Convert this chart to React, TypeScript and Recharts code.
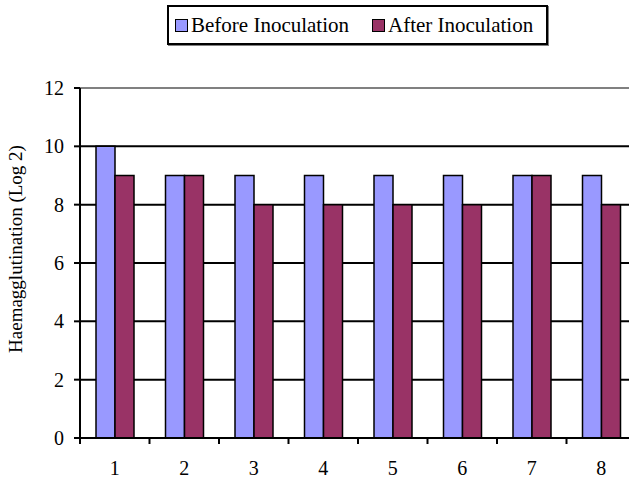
import React from 'react';
import { BarChart, Bar, XAxis, YAxis, CartesianGrid, ReferenceLine } from 'recharts';

const animals = ['1', '2', '3', '4', '5', '6', '7', '8'];
const beforeInoculation = [10, 9, 9, 9, 9, 9, 9, 9];
const afterInoculation = [9, 9, 8, 8, 8, 8, 9, 8];
const yTicks = [0, 2, 4, 6, 8, 10, 12];

const data = animals.map((a, i) => ({
  animal: a,
  before: beforeInoculation[i],
  after: afterInoculation[i],
}));

const CHART_W = 660;
const CHART_H = 481;
const PLOT_LEFT = 80;
const PLOT_RIGHT = 636;
const PLOT_TOP = 88;
const PLOT_BOTTOM = 438;
const BAND = (PLOT_RIGHT - PLOT_LEFT) / animals.length;

const FONT = '"Liberation Serif", "Times New Roman", serif';

// Excel-style category axis: tick marks sit between categories, labels at the centre
const CategoryTick = ({ x, payload }: any) => {
  const edge = x - BAND / 2;
  return (
    <g>
      <line x1={edge} y1={PLOT_BOTTOM} x2={edge} y2={PLOT_BOTTOM + 6} stroke="#000" strokeWidth={2} />
      <text x={x} y={PLOT_BOTTOM + 37} textAnchor="middle" fontFamily={FONT} fontSize={20} fill="#000">
        {payload.value}
      </text>
    </g>
  );
};

const AxisTitle = () => (
  <text
    x={0}
    y={0}
    transform="translate(22, 249) rotate(-90)"
    textAnchor="middle"
    fontFamily={FONT}
    fontSize={19}
    fill="#000"
  >
    Haemagglutination (Log 2)
  </text>
);

const swatch = (color: string, left: number) => (
  <span
    style={{
      position: 'absolute',
      left,
      top: 12,
      width: 11,
      height: 11,
      background: color,
      border: '1.5px solid #000',
    }}
  />
);

const LegendBox = () => (
  <div
    style={{
      position: 'absolute',
      left: 167,
      top: 5,
      width: 377,
      height: 36,
      border: '2px solid #000',
      boxShadow: '1px 1px 0 #808080',
      fontFamily: FONT,
      fontSize: 21,
      lineHeight: '36px',
      color: '#000',
      background: '#fff',
    }}
  >
    {swatch('#9999FF', 6)}
    <span style={{ position: 'absolute', left: 22, top: 0, whiteSpace: 'nowrap' }}>Before Inoculation</span>
    {swatch('#993366', 203)}
    <span style={{ position: 'absolute', left: 219, top: 0, whiteSpace: 'nowrap' }}>After Inoculation</span>
  </div>
);

export default function App() {
  return (
    <div style={{ position: 'fixed', left: 0, top: 0, width: 629, height: 481, overflow: 'hidden', background: '#fff' }}>
      <BarChart
        width={CHART_W}
        height={CHART_H}
        data={data}
        margin={{ top: PLOT_TOP, right: CHART_W - PLOT_RIGHT, left: 0, bottom: 0 }}
        barGap={0}
        barSize={19}
      >
        <CartesianGrid vertical={false} horizontalValues={[2, 4, 6, 8, 10]} stroke="#000" strokeWidth={2} />
        <ReferenceLine y={12} stroke="#808080" strokeWidth={2} />
        <XAxis
          dataKey="animal"
          height={CHART_H - PLOT_BOTTOM}
          axisLine={{ stroke: '#000', strokeWidth: 2 }}
          tickLine={false}
          tick={<CategoryTick />}
          interval={0}
        />
        <YAxis
          width={PLOT_LEFT}
          domain={[0, 12]}
          ticks={yTicks}
          interval={0}
          axisLine={{ stroke: '#000', strokeWidth: 2 }}
          tickLine={{ stroke: '#000', strokeWidth: 2 }}
          tickSize={6}
          tickMargin={10}
          tick={{ fill: '#000', fontFamily: FONT, fontSize: 20 }}
          label={{ content: <AxisTitle /> }}
        />
        <Bar dataKey="before" name="Before Inoculation" fill="#9999FF" stroke="#000" strokeWidth={1.5} isAnimationActive={false} />
        <Bar dataKey="after" name="After Inoculation" fill="#993366" stroke="#000" strokeWidth={1.5} isAnimationActive={false} />
      </BarChart>
      <LegendBox />
    </div>
  );
}
